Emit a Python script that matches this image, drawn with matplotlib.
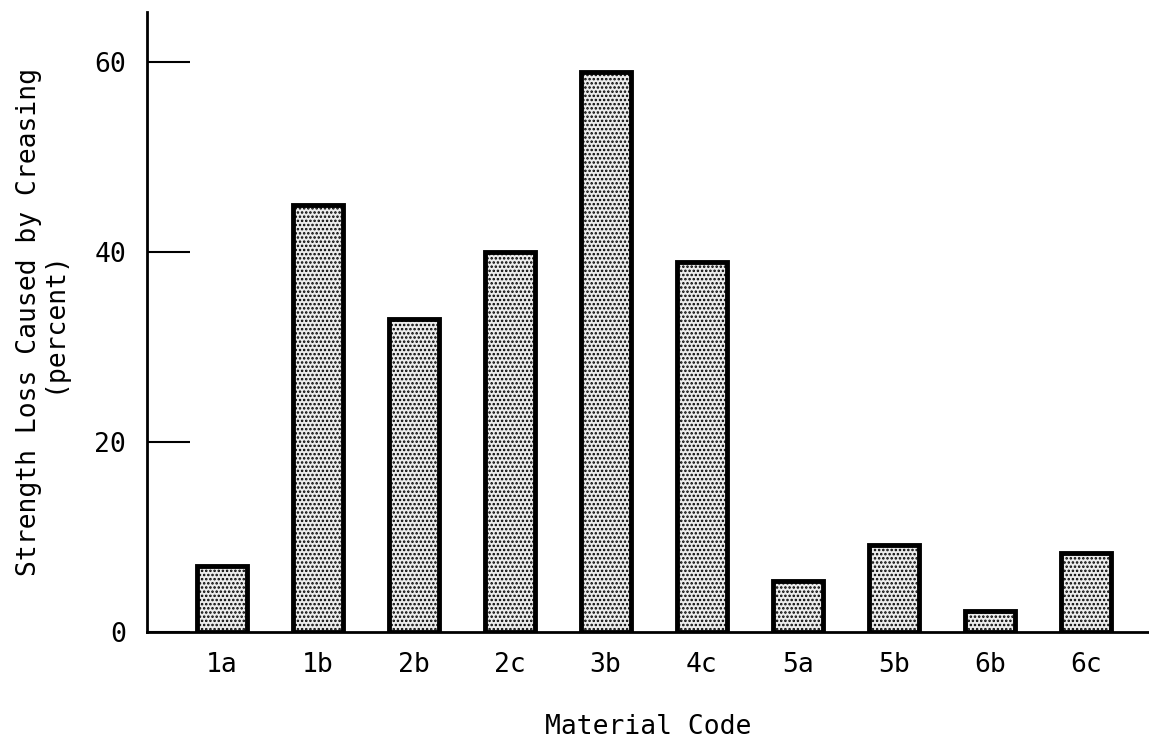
import matplotlib
matplotlib.use("Agg")
import matplotlib.pyplot as plt

# material codes and strength loss (percent)
codes = ["1a", "1b", "2b", "2c", "3b", "4c", "5a", "5b", "6b", "6c"]
loss = [7.0, 45.0, 33.0, 40.0, 59.0, 39.0, 5.4, 9.2, 2.2, 8.3]
yticks = [0, 20, 40, 60]

plt.rcParams['font.family'] = ['DejaVu Sans Mono']
plt.rcParams['hatch.linewidth'] = 1.2

fig = plt.figure(figsize=(11.49, 7.42), dpi=100)
ax = fig.add_axes([0.128, 0.148, 0.872, 0.836])

x = list(range(len(codes)))
ax.bar(x, loss, width=0.52, facecolor='#ececec', edgecolor='black',
       linewidth=3.5, hatch='....')

ax.set_xlim(-0.776, 9.66)
ax.set_ylim(0, 65.3)

ax.spines['top'].set_visible(False)
ax.spines['right'].set_visible(False)
ax.spines['left'].set_linewidth(2)
ax.spines['bottom'].set_linewidth(2)

ax.set_xticks(x)
ax.set_xticklabels(codes, fontsize=19)
ax.tick_params(axis='x', length=0, pad=14)
ax.set_yticks(yticks)
ax.tick_params(axis='y', direction='in', length=31, width=1.5, pad=15, labelsize=19)

ax.set_xlabel("Material Code", fontsize=19, labelpad=26)
ax.set_ylabel("Strength Loss Caused by Creasing\n(percent)", fontsize=19,
              labelpad=20, linespacing=0.95)

fig.savefig("out.png", dpi=100)
